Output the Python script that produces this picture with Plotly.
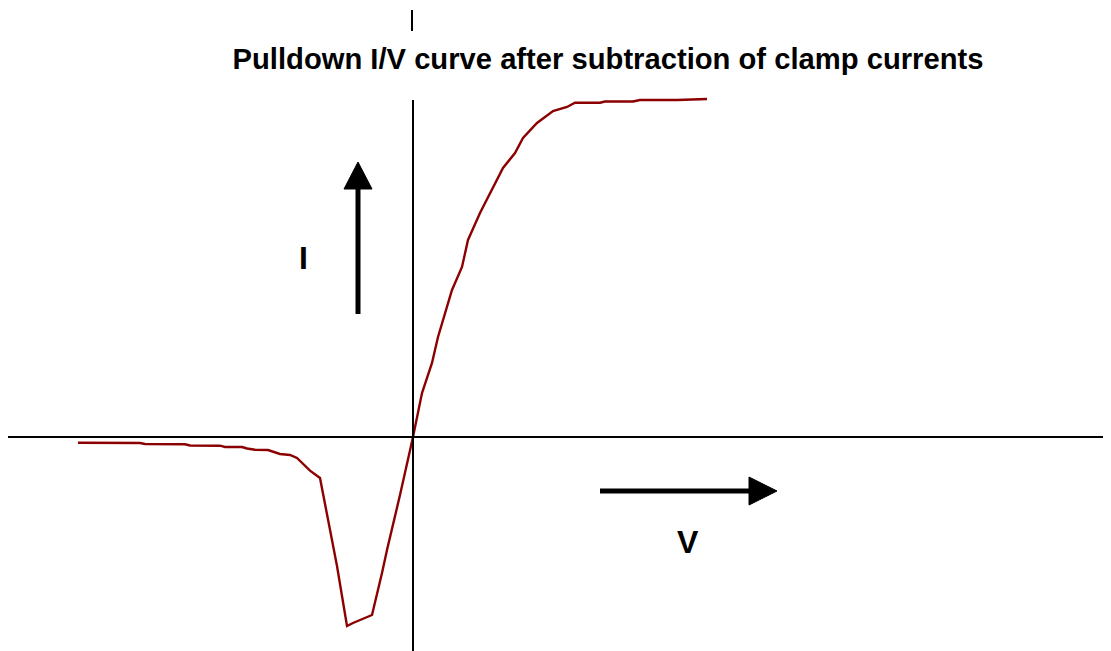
import plotly.graph_objects as go

# Data (V in volts, I in mA, arbitrary scale)
volts = [-3.35, -2.73, -2.68, -2.28, -2.23, -1.93, -1.88, -1.71, -1.66, -1.58,
         -1.45, -1.33, -1.23, -1.16, -1.03, -0.93, -0.76, -0.66, -0.60, -0.51,
         -0.41, -0.31, -0.26, -0.13, 0.0, 0.09, 0.19, 0.25, 0.39, 0.49,
         0.55, 0.67, 0.75, 0.90, 1.02, 1.10, 1.24, 1.40, 1.54, 1.62,
         1.87, 1.92, 2.20, 2.27, 2.64, 2.94]
current = [-0.57, -0.60, -0.70, -0.73, -0.85, -0.87, -1.0, -1.0, -1.15, -1.27,
           -1.3, -1.7, -1.8, -2.1, -3.37, -4.1, -12.9, -18.9, -18.6, -18.2,
           -17.8, -13.6, -11.3, -5.8, 0.0, 4.4, 7.4, 10.0, 14.7, 17.0,
           19.7, 22.4, 24.0, 26.9, 28.4, 29.9, 31.4, 32.6, 33.0, 33.43,
           33.43, 33.55, 33.55, 33.7, 33.7, 33.8]

W, H = 1111, 651
OFF = 8  # page body margin


def px(x):
    return (x - OFF) / W


def py(y):
    return 1 - (y - OFF) / H


fig = go.Figure()

fig.add_trace(go.Scatter(
    x=volts, y=current, mode="lines",
    line=dict(color="#8b0000", width=2.4),
    hoverinfo="x+y", showlegend=False
))

shapes = [
    # axes
    dict(type="line", xref="paper", yref="paper", x0=px(8), x1=px(1112), y0=py(437), y1=py(437),
         line=dict(color="black", width=2)),
    dict(type="line", xref="paper", yref="paper", x0=px(413), x1=px(413), y0=py(100), y1=py(660),
         line=dict(color="black", width=2)),
    dict(type="line", xref="paper", yref="paper", x0=px(412), x1=px(412), y0=py(10), y1=py(31),
         line=dict(color="black", width=2)),
    # up arrow (I)
    dict(type="line", xref="paper", yref="paper", x0=px(358), x1=px(358), y0=py(314), y1=py(188),
         line=dict(color="black", width=5)),
    dict(type="path", xref="paper", yref="paper",
         path=f"M {px(344)} {py(189)} L {px(372)} {py(189)} L {px(358)} {py(162)} Z",
         fillcolor="black", line=dict(color="black", width=1)),
    # right arrow (V)
    dict(type="line", xref="paper", yref="paper", x0=px(600), x1=px(750), y0=py(491), y1=py(491),
         line=dict(color="black", width=5)),
    dict(type="path", xref="paper", yref="paper",
         path=f"M {px(749)} {py(477)} L {px(749)} {py(505)} L {px(777)} {py(491)} Z",
         fillcolor="black", line=dict(color="black", width=1)),
]

label_font = dict(size=32, color="black", family="Liberation Sans, Arial")
annotations = [
    dict(text="<b>I</b>", xref="paper", yref="paper", x=px(303.5), y=py(258),
         xanchor="center", yanchor="middle", showarrow=False, font=label_font),
    dict(text="<b>V</b>", xref="paper", yref="paper", x=px(688), y=py(542),
         xanchor="center", yanchor="middle", showarrow=False, font=label_font),
]

fig.update_layout(
    title=dict(
        text="<b>Pulldown I/V curve after subtraction of clamp currents</b>",
        x=px(608), xanchor="center", y=py(59), yanchor="middle",
        font=dict(size=29.2, color="black", family="Liberation Sans, Arial")
    ),
    xaxis=dict(range=[(OFF - 413) / 100, (OFF + W - 413) / 100], visible=False, fixedrange=True),
    yaxis=dict(range=[(437 - OFF - H) / 10, (437 - OFF) / 10], visible=False, fixedrange=True),
    shapes=shapes,
    annotations=annotations,
    width=W, height=H,
    margin=dict(l=0, r=0, t=0, b=0),
    plot_bgcolor="white", paper_bgcolor="white",
)

fig.write_html("out.html")
